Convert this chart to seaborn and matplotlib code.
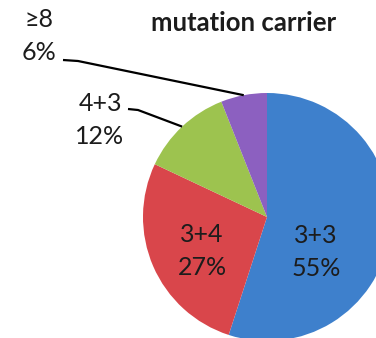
import numpy as np
import matplotlib
matplotlib.use("Agg")
import matplotlib.pyplot as plt
import seaborn as sns

# Gleason score distribution among mutation carriers
categories = ["3+3", "3+4", "4+3", "\u22658"]
shares = [55, 27, 12, 6]
colors = ["#3E80CC", "#D9464B", "#9DC34F", "#8C60C0"]
title = "mutation carrier"

sns.set_style("white")
plt.rcParams["font.family"] = ["Lato", "DejaVu Sans"]

W, H = 376, 338
fig = plt.figure(figsize=(W / 100, H / 100), dpi=100)
fig.patch.set_facecolor("white")

# pie centre and radius in pixels; the disc runs past the right and bottom edges
cx, cy, r = 267, 217, 124
ax = fig.add_axes([(cx - r) / W, (H - cy - r) / H, 2 * r / W, 2 * r / H])
ax.axis("off")

wedges, _ = ax.pie(shares, colors=colors, startangle=90, counterclock=False,
                   radius=1, wedgeprops=dict(linewidth=0), frame=False)
ax.set_xlim(-1, 1)
ax.set_ylim(-1, 1)
ax.set_aspect("equal")
for w in wedges:
    w.set_clip_on(False)

txt_color = "#1c1c1c"
fs = 18
lsp = 1.5


def px(x, y):
    """pixel position -> data coordinates of the pie axes"""
    return (x - cx) / r, (cy - y) / r


# labels drawn inside the two large wedges
inside_pos = {"3+3": (316, 252), "3+4": (202, 251)}
for w, cat, s in zip(wedges, categories, shares):
    if cat in inside_pos:
        x, y = px(*inside_pos[cat])
        ax.text(x, y, f"{cat}\n{s}%", ha="center", va="center", fontsize=fs,
                color=txt_color, linespacing=lsp, clip_on=False)

# outside labels with leader lines to the middle of the wedge rim
outside = {
    "4+3": dict(text=(100, 120), start=(128, 109), knee=(138, 110)),
    "\u22658": dict(text=(39, 36), start=(63, 60), knee=(78, 61)),
}
for w, cat, s in zip(wedges, categories, shares):
    if cat in outside:
        o = outside[cat]
        mid = np.deg2rad((w.theta1 + w.theta2) / 2)
        ex, ey = np.cos(mid), np.sin(mid)
        sx, sy = px(*o["start"])
        kx, ky = px(*o["knee"])
        ax.plot([sx, kx, ex], [sy, ky, ey], color="black", lw=1.6,
                clip_on=False, solid_capstyle="butt")
        tx, ty = px(*o["text"])
        ax.text(tx, ty, f"{cat}\n{s}%", ha="center", va="center", fontsize=fs,
                color=txt_color, linespacing=lsp, clip_on=False)

fig.text(244 / W, 1 - 23 / H, title, ha="center", va="center", fontsize=18.5,
         fontweight="bold", color=txt_color)

fig.savefig("out.png", dpi=100, facecolor="white")
